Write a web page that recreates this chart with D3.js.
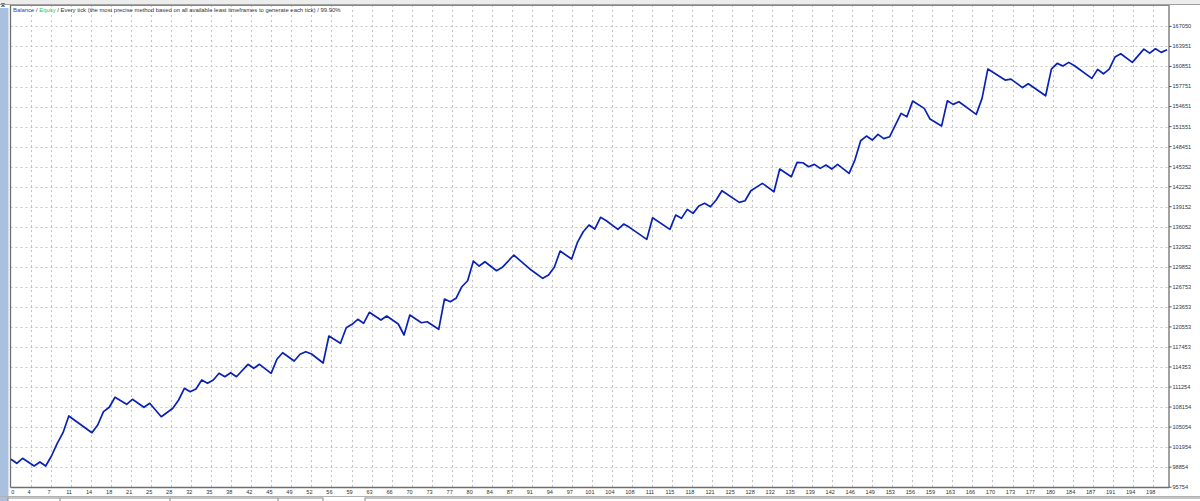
<!DOCTYPE html>
<html><head><meta charset="utf-8">
<script src="https://cdn.jsdelivr.net/npm/d3@7/dist/d3.min.js"></script>
<style>html,body{margin:0;padding:0;background:#fff;overflow:hidden}</style>
</head><body>
<svg id="c" width="1200" height="501"></svg>
<script>
// ---- data ----
const yTickValues = [95754, 98854, 101954, 105054, 108154, 111254, 114353, 117453, 120553, 123653, 126753, 129852, 132952, 136052, 139152, 142252, 145352, 148451, 151551, 154651, 157751, 160851, 163951, 167050];
const xTickLabels = [0,4,7,11,14,18,21,25,28,32,35,38,42,45,49,52,56,59,63,66,70,73,77,80,84,87,91,94,97,101,104,108,111,115,118,121,125,128,132,135,139,142,146,149,153,156,159,163,166,170,173,177,180,184,187,191,194,198];
const trades = [0,1,2,4,5,6,7,8,9,10,14,15,16,17,18,20,21,23,24,26,28,29,30,31,32,33,34,35,36,37,38,39,41,42,43,45,46,47,49,50,51,52,54,55,57,58,59,60,61,62,64,65,67,68,69,71,72,74,75,76,77,78,79,80,81,82,84,85,87,89,90,92,93,94,95,97,98,99,100,101,102,103,105,106,107,110,111,114,115,116,117,118,119,120,121,122,123,126,127,128,130,132,133,135,136,137,138,139,140,141,142,143,145,146,147,148,149,150,151,152,154,155,156,158,159,161,162,163,164,167,168,169,172,173,175,176,179,180,181,182,183,184,187,188,189,190,191,192,194,196,197,198,199,200];
const balance = [100074,99455,100228,99037,99656,99037,100584,102548,104188,106771,104188,105379,107436,108117,109664,108581,109354,108117,108736,106663,107962,109246,111056,110530,110948,112340,111829,112340,113376,112850,113469,112850,114768,114149,114768,113376,115542,116562,115279,116315,116717,116361,114969,119145,118016,120429,120955,121729,121110,122812,121620,122239,121002,119300,122394,121203,121357,120182,124869,124451,124977,126771,127699,130746,129973,130638,129246,129772,131675,130128,129354,128071,128581,129772,132293,131056,133639,135279,136315,135696,137506,136980,135650,136470,135959,134103,137444,135650,137862,137351,138744,138125,139254,139672,139146,140182,141621,139826,140074,141621,142765,141466,144977,143786,146014,145952,145333,145704,145085,145596,144977,145704,144312,146369,149355,150082,149463,150345,149695,149973,153593,153067,155495,154366,152711,151628,155542,154985,155387,153438,155913,160445,158744,158898,157584,158171,156315,160445,161327,160909,161482,160956,159007,160399,159718,160445,162301,162812,161482,163539,162920,163585,163028,163430];
const legendParts = [
  {text: "Balance", color: "#1f3fbf"},
  {text: " / ", color: "#333"},
  {text: "Equity", color: "#3fbf3f"},
  {text: " / Every tick (the most precise method based on all available least timeframes to generate each tick) / 99.90%", color: "#333"}
];

// ---- layout ----
const L = 10.5, R = 1169, T = 5, B = 487.5;
const svg = d3.select("#c");
const font = "'Liberation Sans', Arial, sans-serif";

const x = d3.scaleLinear().domain([0, 200]).range([11, 1167]);
const y = d3.scaleLinear().domain([95754, 167050]).range([487.2, 26.4]);
const xg = d3.scalePoint().domain(xTickLabels.map(String)).range([11, 11 + 57 * 20.03]);

// window chrome
svg.append("rect").attr("x", 0).attr("y", 0).attr("width", 1200).attr("height", 5).attr("fill", "#ececec");
svg.append("rect").attr("x", 0).attr("y", 8).attr("width", 8.5).attr("height", 493).attr("fill", "#a9c1de");
svg.append("text").attr("x", 1).attr("y", 7).attr("font-family", font).attr("font-size", 7).attr("font-weight", "bold").attr("fill", "#222").text("x");
svg.append("line").attr("x1", 0).attr("x2", 1200).attr("y1", 4.5).attr("y2", 4.5).attr("stroke", "#a0a0a0");

// grid
const grid = svg.append("g");
grid.selectAll("line.h").data(yTickValues.slice(1)).join("line")
  .attr("x1", L).attr("x2", R).attr("y1", d => Math.round(y(d)) + 0.5).attr("y2", d => Math.round(y(d)) + 0.5)
  .attr("stroke", "#c4c4c4").attr("stroke-width", 1).attr("stroke-dasharray", "2,3");
grid.selectAll("line.v").data(xTickLabels.slice(1).map(String)).join("line")
  .attr("x1", d => Math.round(xg(d)) + 0.5).attr("x2", d => Math.round(xg(d)) + 0.5).attr("y1", T).attr("y2", B)
  .attr("stroke", "#c4c4c4").attr("stroke-width", 1).attr("stroke-dasharray", "2,3");

// frame
svg.append("line").attr("x1", L).attr("x2", L).attr("y1", T).attr("y2", B).attr("stroke", "#6f6f6f").attr("stroke-width", 1.3);
svg.append("line").attr("x1", R).attr("x2", R).attr("y1", T).attr("y2", B).attr("stroke", "#6f6f6f").attr("stroke-width", 1.3);
svg.append("line").attr("x1", L).attr("x2", R).attr("y1", B).attr("y2", B).attr("stroke", "#6f6f6f").attr("stroke-width", 1.3);
svg.append("line").attr("x1", L).attr("x2", R).attr("y1", T + 0.5).attr("y2", T + 0.5).attr("stroke", "#8a8a8a").attr("stroke-width", 1);

// right axis labels
const ya = svg.append("g");
ya.selectAll("line").data(yTickValues).join("line")
  .attr("x1", R).attr("x2", R + 2.5).attr("y1", d => y(d)).attr("y2", d => y(d)).attr("stroke", "#555");
ya.selectAll("text").data(yTickValues).join("text")
  .attr("x", R + 3.5).attr("y", d => y(d)).attr("dy", "0.35em")
  .attr("font-family", font).attr("font-size", 5.6).attr("fill", "#333").text(d => d);

// bottom axis labels
svg.append("g").selectAll("text").data(xTickLabels.map(String)).join("text")
  .attr("x", d => Math.max(xg(d) - 2, 12.7)).attr("y", 492.5).attr("dy", "0.35em").attr("text-anchor", "middle")
  .attr("font-family", font).attr("font-size", 5.6).attr("fill", "#333").text(d => d);

// balance line
const pts = trades.map((t, i) => [t, balance[i]]);
svg.append("path").datum(pts)
  .attr("d", d3.line().x(d => x(d[0])).y(d => y(d[1])))
  .attr("fill", "none").attr("stroke", "#0a22b4").attr("stroke-width", 1.7).attr("stroke-linejoin", "round");

// legend
const lg = svg.append("text").attr("x", 13).attr("y", 12.3)
  .attr("font-family", font).attr("font-size", 5.9);
legendParts.forEach(p => lg.append("tspan").attr("fill", p.color).text(p.text));

// bottom tabs
svg.append("line").attr("x1", 0).attr("x2", 1200).attr("y1", 496.5).attr("y2", 496.5).attr("stroke", "#b0b0b0");
svg.append("rect").attr("x", 8).attr("y", 498).attr("width", 315).attr("height", 6).attr("fill", "#fff").attr("stroke", "#8a8a8a");
[60, 170, 278].forEach(v => svg.append("line").attr("x1", v).attr("x2", v).attr("y1", 498).attr("y2", 501).attr("stroke", "#8a8a8a"));
svg.append("rect").attr("x", 365).attr("y", 498).attr("width", 840).attr("height", 6).attr("fill", "#fff").attr("stroke", "#8a8a8a");
</script>
</body></html>
